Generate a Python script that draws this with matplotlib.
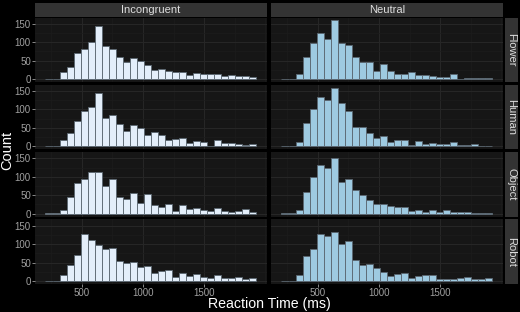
import matplotlib
matplotlib.use("Agg")
import matplotlib.pyplot as plt
import numpy as np
from matplotlib.ticker import MultipleLocator

plt.rcParams['font.family'] = ['Liberation Sans', 'DejaVu Sans']

conditions = ["Incongruent", "Neutral"]
stimuli = ["Flower", "Human", "Object", "Robot"]

bin_start = 201.0
bin_width = 57.6

counts = {
    ("Flower", "Incongruent"): [1, 1, 18, 32, 72, 82, 100, 145, 90, 82, 59, 47, 58, 48, 38, 24, 28, 23, 18, 18, 12, 16, 15, 13, 13, 8, 10, 7, 9, 5],
    ("Flower", "Neutral"):     [1, 1, 15, 61, 99, 126, 109, 159, 99, 93, 59, 45, 45, 22, 40, 22, 13, 13, 18, 10, 12, 7, 5, 5, 15, 1, 4, 4, 2, 4],
    ("Human", "Incongruent"):  [1, 1, 16, 35, 69, 95, 106, 145, 76, 86, 60, 42, 57, 49, 31, 38, 31, 17, 20, 23, 10, 14, 12, 2, 17, 9, 10, 6, 4, 7],
    ("Human", "Neutral"):      [1, 1, 12, 63, 100, 134, 125, 159, 117, 95, 53, 53, 36, 23, 27, 12, 16, 16, 5, 14, 6, 8, 6, 6, 11, 5, 4, 6, 2, 1],
    ("Object", "Incongruent"): [1, 1, 11, 44, 82, 95, 114, 114, 75, 94, 44, 39, 55, 29, 53, 23, 18, 26, 8, 23, 13, 15, 11, 8, 14, 6, 5, 7, 12, 4],
    ("Object", "Neutral"):     [1, 1, 10, 59, 100, 131, 125, 150, 85, 93, 63, 51, 38, 25, 25, 22, 19, 19, 8, 11, 4, 10, 5, 10, 4, 5, 5, 2, 3, 1],
    ("Robot", "Incongruent"):  [1, 1, 16, 44, 71, 127, 112, 98, 88, 89, 53, 48, 52, 37, 40, 21, 28, 30, 11, 22, 14, 20, 11, 9, 17, 7, 8, 11, 5, 9],
    ("Robot", "Neutral"):      [1, 1, 16, 69, 87, 127, 123, 134, 99, 108, 56, 42, 46, 35, 25, 14, 20, 21, 9, 14, 16, 16, 6, 6, 5, 8, 12, 4, 5, 9],
}

fills = {"Incongruent": "#e3eefa", "Neutral": "#9ecae1"}
edge_color = "#5a6670"

x_ticks = [500, 1000, 1500]
y_ticks = [0, 50, 100, 150]
x_limits = (115, 2016)
y_limits = (-8, 167)

W, H = 520, 312
fig = plt.figure(figsize=(W / 100, H / 100), dpi=100, facecolor="black")

col_left = [35, 271]
col_w = 232
row_top = [17.5, 84.8, 152.1, 219.4]
row_h = 64.5

panel_bg = "#161616"
grid_major = "#262626"
grid_minor = "#1c1c1c"
strip_bg = "#333333"
strip_txt = "#dddddd"
tick_col = "#a0a0a0"

def px_axes(x, y, w, h):
    return fig.add_axes([x / W, 1 - (y + h) / H, w / W, h / H])

for r, stim in enumerate(stimuli):
    for c, cond in enumerate(conditions):
        ax = px_axes(col_left[c], row_top[r], col_w, row_h)
        ax.set_facecolor(panel_bg)
        vals = counts[(stim, cond)]
        n = len(vals)
        lefts = bin_start + bin_width * np.arange(n)
        ax.bar(lefts, vals, width=bin_width, align="edge", color=fills[cond],
               edgecolor=edge_color, linewidth=0.6, zorder=3)
        ax.set_xlim(*x_limits)
        ax.set_ylim(*y_limits)
        ax.xaxis.set_minor_locator(MultipleLocator(250))
        ax.yaxis.set_minor_locator(MultipleLocator(25))
        ax.set_xticks(x_ticks)
        ax.set_yticks(y_ticks)
        ax.grid(which="major", color=grid_major, linewidth=0.8, zorder=0)
        ax.grid(which="minor", color=grid_minor, linewidth=0.5, zorder=0)
        ax.set_axisbelow(True)
        for s in ax.spines.values():
            s.set_visible(False)
        ax.tick_params(which="minor", length=0)
        ax.tick_params(which="major", length=2.2, width=0.6, color=tick_col,
                       labelcolor=tick_col, labelsize=7, pad=0.8)
        if c != 0:
            ax.tick_params(axis="y", labelleft=False, length=0)
        if r != len(stimuli) - 1:
            ax.tick_params(axis="x", labelbottom=False, length=0)

        if r == 0:
            sax = px_axes(col_left[c], 3, col_w, 13.5)
            sax.set_facecolor(strip_bg)
            sax.set_xticks([]); sax.set_yticks([])
            for s in sax.spines.values():
                s.set_visible(False)
            sax.text(0.5, 0.5, cond, ha="center", va="center", color=strip_txt,
                     fontsize=8, transform=sax.transAxes)
        if c == len(conditions) - 1:
            sax = px_axes(505, row_top[r], 13, row_h)
            sax.set_facecolor(strip_bg)
            sax.set_xticks([]); sax.set_yticks([])
            for s in sax.spines.values():
                s.set_visible(False)
            sax.text(0.5, 0.5, stim, ha="center", va="center", color=strip_txt,
                     fontsize=8, rotation=-90, transform=sax.transAxes)

fig.text(269 / W, 1 - 311.2 / H, "Reaction Time (ms)", ha="center", va="bottom",
         color="white", fontsize=10.2)
fig.text(7 / W, 1 - 150 / H, "Count", ha="center", va="center",
         color="white", fontsize=10.5, rotation=90)

fig.savefig("out.png", dpi=100, facecolor="black")
